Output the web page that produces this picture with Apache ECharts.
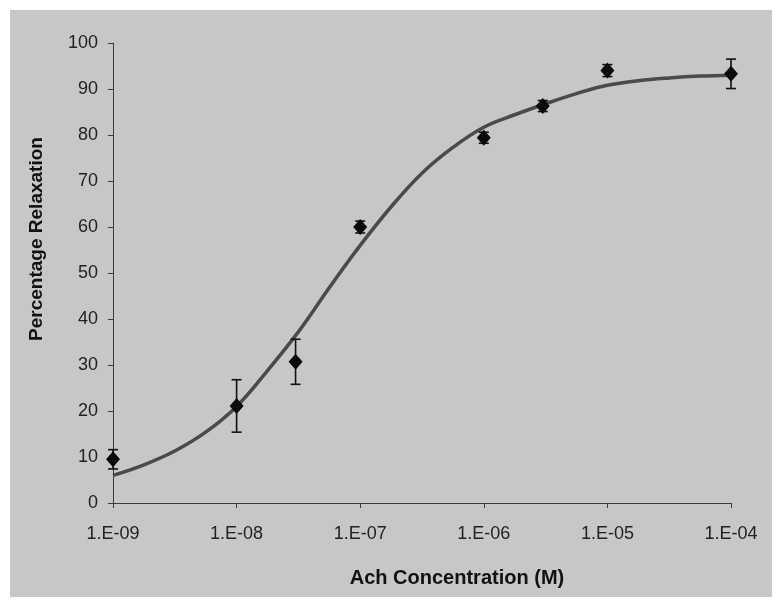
<!DOCTYPE html>
<html>
<head>
<meta charset="utf-8">
<script src="https://cdn.jsdelivr.net/npm/echarts@6/dist/echarts.min.js"></script>
<style>
  html, body { margin: 0; padding: 0; background: #ffffff; }
  #chart { width: 776px; height: 602px; }
</style>
</head>
<body>
<div id="chart"></div>
<script>
// Acetylcholine concentration (M) for each measured dose
var concentrations = [1e-9, 1e-8, 3e-8, 1e-7, 1e-6, 3e-6, 1e-5, 1e-4];
// Mean percentage relaxation at each dose
var relaxationMean = [9.5, 21.1, 30.7, 60.0, 79.4, 86.3, 94.0, 93.3];
// Error (± half-range) for each mean
var relaxationErr = [2.1, 5.7, 4.9, 1.3, 1.2, 1.2, 1.3, 3.2];

// Fitted dose-response curve, read at quarter-decade steps
var curveConc = [1e-9, 1.78e-9, 3.16e-9, 5.62e-9, 1e-8, 1.78e-8, 3.16e-8, 5.62e-8,
                 1e-7, 1.78e-7, 3.16e-7, 5.62e-7, 1e-6, 1.78e-6, 3.16e-6, 5.62e-6,
                 1e-5, 1.78e-5, 3.16e-5, 5.62e-5, 1e-4];
var curveFit  = [6.0, 8.3, 11.3, 15.4, 21.0, 28.8, 37.2, 46.8,
                 56.0, 64.4, 71.7, 77.3, 81.7, 84.4, 86.8, 89.0,
                 90.8, 91.8, 92.4, 92.8, 93.0];

// Tick labels for the decades 1e-9 ... 1e-4
var xTickLabels = ['1.E-09', '1.E-08', '1.E-07', '1.E-06', '1.E-05', '1.E-04'];
var yTicks = [0, 10, 20, 30, 40, 50, 60, 70, 80, 90, 100];

var xTitle = 'Ach Concentration (M)';
var yTitle = 'Percentage Relaxation';

var chart = echarts.init(document.getElementById('chart'), null, { renderer: 'canvas' });

var points = concentrations.map(function (c, i) { return [c, relaxationMean[i]]; });
var bars = concentrations.map(function (c, i) {
  return [c, relaxationMean[i] - relaxationErr[i], relaxationMean[i] + relaxationErr[i]];
});
var curve = curveConc.map(function (c, i) { return [c, curveFit[i]]; });

var labelFont = 'Liberation Sans, Arial, sans-serif';

chart.setOption({
  animation: false,
  backgroundColor: '#ffffff',
  grid: { left: 113, right: 45, top: 43, bottom: 99, containLabel: false },
  graphic: [
    {
      type: 'rect', z: -10, silent: true,
      shape: { x: 10, y: 10, width: 762, height: 587 },
      style: { fill: '#c7c7c7' }
    },
    {
      type: 'text', z: 10, silent: true,
      x: 457, y: 578,
      style: {
        text: xTitle, fill: '#111111',
        font: 'bold 20px ' + labelFont,
        textAlign: 'center', textVerticalAlign: 'middle'
      }
    },
    {
      type: 'text', z: 10, silent: true,
      x: 37, y: 239, rotation: Math.PI / 2,
      style: {
        text: yTitle, fill: '#111111',
        font: 'bold 19px ' + labelFont,
        textAlign: 'center', textVerticalAlign: 'middle'
      }
    }
  ],
  xAxis: {
    type: 'log',
    logBase: 10,
    min: 1e-9,
    max: 1e-4,
    splitLine: { show: false },
    axisLine: { show: true, onZero: false, lineStyle: { color: '#3a3a3a', width: 1 } },
    axisTick: { show: true, inside: false, length: 5, lineStyle: { color: '#3a3a3a' } },
    minorTick: { show: false },
    axisLabel: {
      margin: 22,
      color: '#222222',
      fontFamily: labelFont,
      fontSize: 18,
      formatter: function (v) {
        var idx = Math.round(Math.log10(v)) + 9;
        return xTickLabels[idx] || '';
      }
    }
  },
  yAxis: {
    type: 'value',
    min: yTicks[0],
    max: yTicks[yTicks.length - 1],
    interval: yTicks[1] - yTicks[0],
    splitLine: { show: false },
    axisLine: { show: true, lineStyle: { color: '#3a3a3a', width: 1 } },
    axisTick: { show: true, inside: false, length: 5, lineStyle: { color: '#3a3a3a' } },
    axisLabel: {
      margin: 15,
      color: '#222222',
      fontFamily: labelFont,
      fontSize: 18
    }
  },
  series: [
    {
      type: 'line',
      name: 'fit',
      data: curve,
      smooth: 0.4,
      showSymbol: false,
      symbol: 'none',
      lineStyle: { color: '#4a4a4a', width: 3.5 },
      z: 2
    },
    {
      type: 'custom',
      name: 'error',
      data: bars,
      z: 3,
      renderItem: function (params, api) {
        var x = api.value(0);
        var lo = api.coord([x, api.value(1)]);
        var hi = api.coord([x, api.value(2)]);
        var cap = 5;
        var style = { stroke: '#111111', lineWidth: 1.6 };
        return {
          type: 'group',
          children: [
            { type: 'line', shape: { x1: lo[0], y1: lo[1], x2: hi[0], y2: hi[1] }, style: style },
            { type: 'line', shape: { x1: lo[0] - cap, y1: lo[1], x2: lo[0] + cap, y2: lo[1] }, style: style },
            { type: 'line', shape: { x1: hi[0] - cap, y1: hi[1], x2: hi[0] + cap, y2: hi[1] }, style: style }
          ]
        };
      }
    },
    {
      type: 'scatter',
      name: 'mean',
      data: points,
      symbol: 'diamond',
      symbolSize: [14, 16],
      itemStyle: { color: '#0a0a0a', opacity: 1 },
      z: 4
    }
  ]
});
</script>
</body>
</html>
